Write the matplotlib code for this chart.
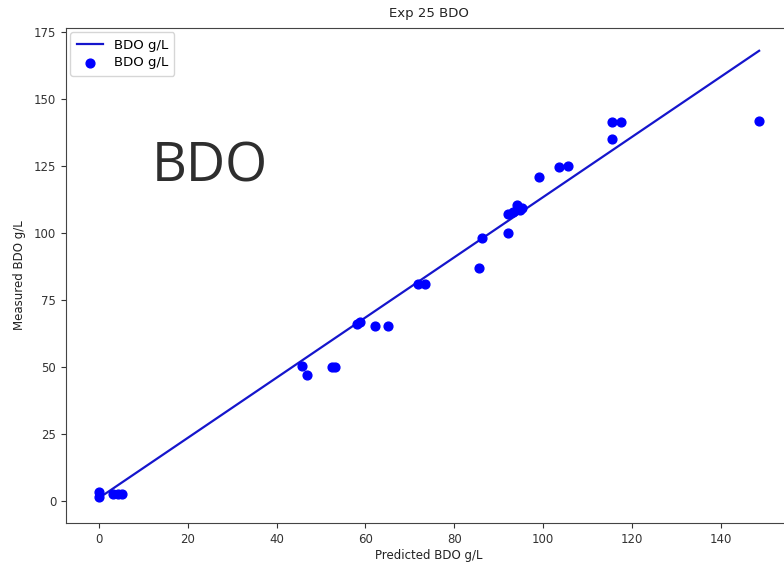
import matplotlib
matplotlib.use('Agg')
import matplotlib.pyplot as plt

# measured vs predicted BDO (g/L)
PRED = [0.0, 0.0, 3.2, 4.3, 5.1, 45.8, 46.9, 52.4, 53.1, 58.2, 58.7, 62.1, 65.1,
        71.9, 73.4, 85.5, 86.3, 92.1, 92.1, 93.3, 94.2, 94.8, 95.3, 99.1,
        103.6, 105.6, 115.4, 115.6, 117.6, 148.6]
MEAS = [1.5, 3.3, 2.5, 2.5, 2.5, 50.2, 47.1, 49.8, 49.8, 66.1, 66.6, 65.1, 65.1,
        81.1, 81.1, 87.0, 98.0, 100.0, 107.2, 107.8, 110.4, 108.7, 109.3, 121.0,
        124.6, 124.9, 134.9, 141.5, 141.5, 141.7]
# fitted line, end points
FIT_X = [0.0, 148.6]
FIT_Y = [1.0, 168.0]

W, H = 784, 565
fig = plt.figure(figsize=(W / 100, H / 100), dpi=100)
# axes run past the right edge, as in the cropped screenshot
ax = fig.add_axes([66 / W, 1 - 523 / H, (792 - 66) / W, (523 - 28) / H])

ax.plot(FIT_X, FIT_Y, color='#1515cc', lw=1.6, label='BDO g/L')
ax.scatter(PRED, MEAS, color='b', s=40, label='BDO g/L', zorder=3)

ax.set_xlim(-7.4, 156.0)
ax.set_ylim(-8.3, 176.5)
ax.set_xticks(range(0, 141, 20))
ax.set_yticks(range(0, 176, 25))
ax.tick_params(labelsize=8.5, colors='#333333', length=3.5)
for s in ax.spines.values():
    s.set_color('#444444')
ax.set_title('Exp 25 BDO', fontsize=9.5, pad=8, color='#222222')
ax.set_xlabel('Predicted BDO g/L', fontsize=8.5, color='#222222', labelpad=2)
ax.set_ylabel('Measured BDO g/L', fontsize=8.5, color='#222222', labelpad=6)
ax.legend(loc='upper left', fontsize=9.5, handlelength=2.0, borderaxespad=0.3,
          borderpad=0.5, labelspacing=0.35)

fig.text(152 / W, 1 - 181 / H, 'BDO', fontsize=39, color='#2e2e2e',
         family=['Open Sans', 'DejaVu Sans'], ha='left', va='baseline')

fig.savefig('out.png', dpi=100)
